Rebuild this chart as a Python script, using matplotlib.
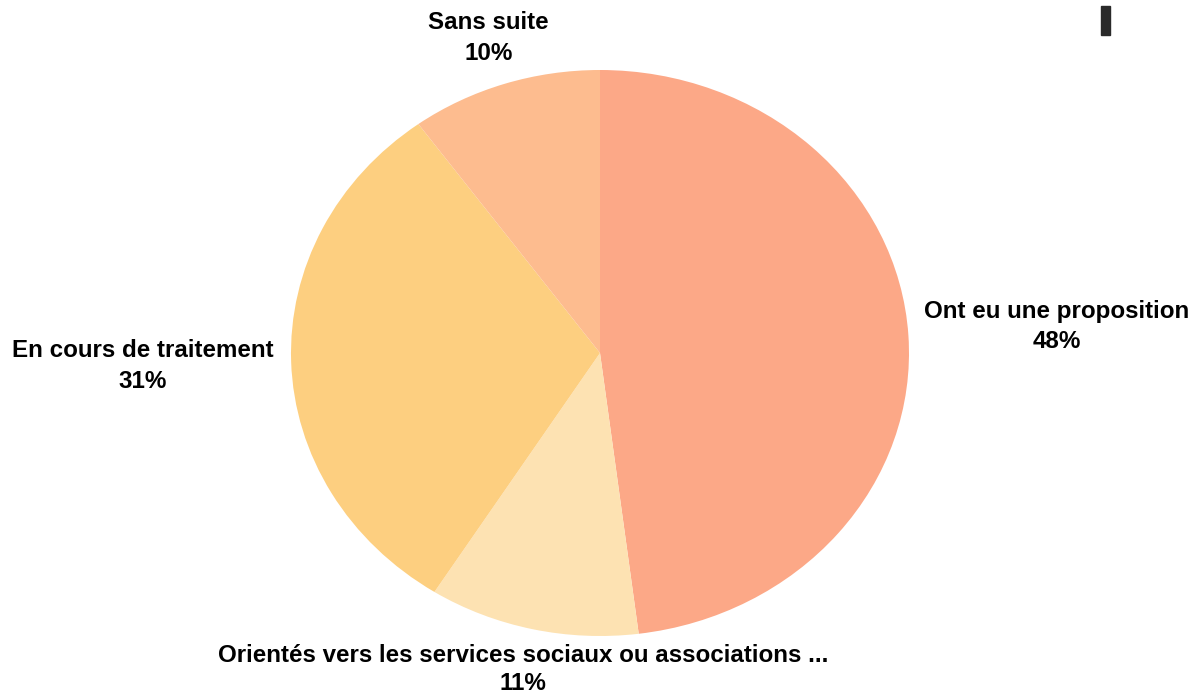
import matplotlib
matplotlib.use("Agg")
import matplotlib.pyplot as plt
import numpy as np
from matplotlib.patches import Rectangle

# Data
labels = ["Ont eu une proposition", "Orientés vers les services sociaux ou associations ...",
          "En cours de traitement", "Sans suite"]
values = [48, 11, 31, 10]
colors = ["#FCA887", "#FDE2B2", "#FDCF80", "#FDBC8F"]

# label distance from centre, per slice (in radius units)
label_dist = [1.48, 1.145, 1.48, 1.17]

plt.rcParams['font.family'] = ['Liberation Sans', 'DejaVu Sans']

W, H = 1198, 697
fig = plt.figure(figsize=(W / 100, H / 100), dpi=100)
# pie is slightly elliptical: 618 px wide, 566 px tall, centred at (600, 353)
ax = fig.add_axes([291 / W, 61 / H, 618 / W, 566 / H])

wedges, _ = ax.pie(values, colors=colors, startangle=90, counterclock=False,
                   wedgeprops=dict(linewidth=0))
ax.set_aspect('auto')
ax.set_xlim(-1, 1)
ax.set_ylim(-1, 1)
ax.axis('off')

for w, lab, v, d in zip(wedges, labels, values, label_dist):
    mid = np.deg2rad((w.theta1 + w.theta2) / 2)
    x, y = d * np.cos(mid), d * np.sin(mid)
    ls = 1.3 if y < -1 else 1.42
    ax.text(x, y, f"{lab}\n{v}%", ha='center', va='center', fontsize=17.4,
            fontweight='bold', linespacing=ls, clip_on=False, color='#000000')

# small dark bar at the top right
fig.patches.append(Rectangle((1101 / W, 1 - 35 / H), 9 / W, 29 / H,
                             transform=fig.transFigure, color='#2a2a2a'))

fig.savefig("out.png", dpi=100)
